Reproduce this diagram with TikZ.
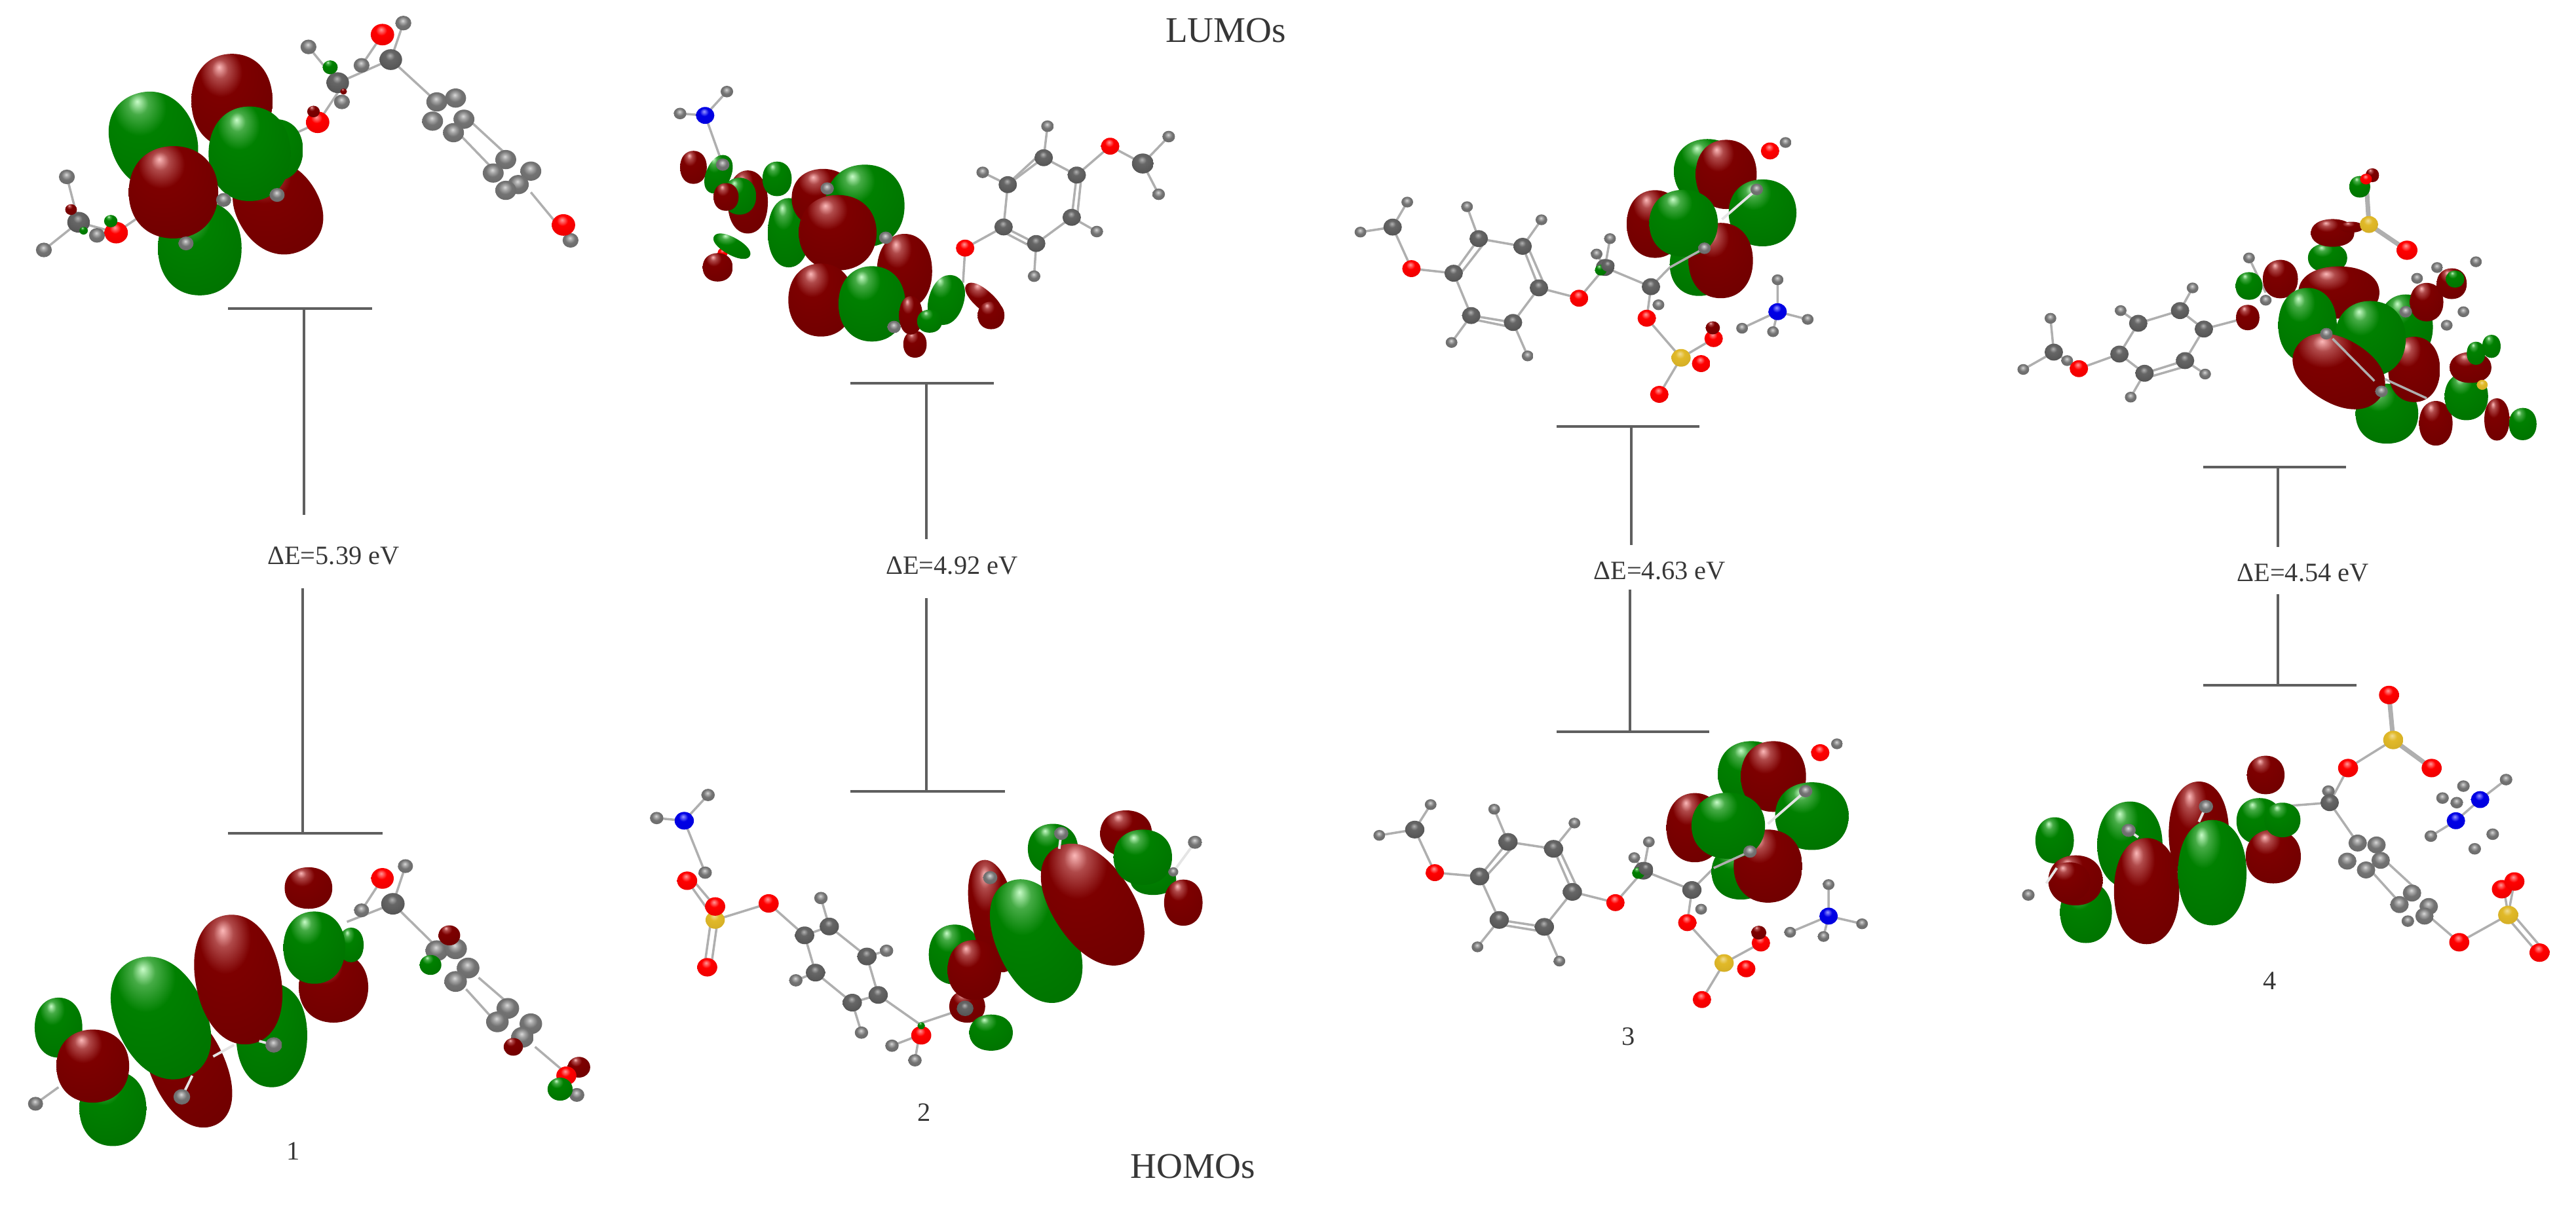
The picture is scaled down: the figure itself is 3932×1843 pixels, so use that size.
\documentclass[tikz,border=0pt]{standalone}
\usepackage{fontspec}
\setmainfont{Liberation Serif}
\usepackage{tikz}
\usetikzlibrary{positioning}

\definecolor{txtgrey}{RGB}{55,55,55}
\definecolor{barGrey}{RGB}{95,95,95}
\definecolor{bondGrey}{RGB}{175,175,175}
\definecolor{grHi}{RGB}{200,252,200}
\definecolor{grMid}{RGB}{0,128,0}
\definecolor{grDark}{RGB}{0,40,0}
\definecolor{rdHi}{RGB}{252,185,185}
\definecolor{rdMid}{RGB}{125,0,0}
\definecolor{rdDark}{RGB}{35,0,0}
\definecolor{sMid}{RGB}{225,185,40}

\pgfdeclareradialshading{shadeG}{\pgfpoint{-8bp}{18bp}}{color(0bp)=(grHi); color(5bp)=(grMid!65!grHi); color(13bp)=(grMid); color(42bp)=(grMid!88!black); color(66bp)=(grDark); color(80bp)=(grDark)}
\pgfdeclareradialshading{shadeR}{\pgfpoint{-8bp}{18bp}}{color(0bp)=(rdHi); color(5bp)=(rdMid!60!rdHi); color(13bp)=(rdMid); color(42bp)=(rdMid!88!black); color(66bp)=(rdDark); color(80bp)=(rdDark)}
\pgfdeclareradialshading{shadeH}{\pgfpoint{-2bp}{8bp}}{color(0bp)=(black!15); color(7bp)=(black!35); color(16bp)=(black!55); color(45bp)=(black!62); color(65bp)=(black!78)}
\pgfdeclareradialshading{shadeC}{\pgfpoint{-2bp}{10bp}}{color(0bp)=(black!30); color(10bp)=(black!60); color(45bp)=(black!72); color(65bp)=(black!88)}
\pgfdeclareradialshading{shadeO}{\pgfpoint{-3bp}{12bp}}{color(0bp)=(red!40); color(12bp)=(red); color(45bp)=(red!88!black); color(65bp)=(red!50!black)}
\pgfdeclareradialshading{shadeN}{\pgfpoint{-3bp}{12bp}}{color(0bp)=(blue!40); color(12bp)=(blue!90!black); color(45bp)=(blue!85!black); color(65bp)=(blue!50!black)}
\pgfdeclareradialshading{shadeS}{\pgfpoint{-3bp}{12bp}}{color(0bp)=(sMid!50!white); color(12bp)=(sMid); color(45bp)=(sMid!90!black); color(65bp)=(sMid!50!black)}

\tikzset{
  zoomview/.style={xscale=.638,yscale=.587},
  lobeG/.style={shading=shadeG},
  lobeR/.style={shading=shadeR},
  atomH/.style={shading=shadeH},
  atomC/.style={shading=shadeC},
  atomO/.style={shading=shadeO},
  atomN/.style={shading=shadeN},
  atomS/.style={shading=shadeS},
  bond/.style={draw=bondGrey,line width=1pt},
  whitebond/.style={draw=black!10,line width=1.1pt},
  levelbar/.style={draw=barGrey,line width=1.1pt},
  gaplabel/.style={text=txtgrey,font=\fontsize{11.5}{13}\selectfont,inner sep=0pt},
  titlelabel/.style={text=txtgrey,font=\fontsize{15.7}{18}\selectfont,inner sep=0pt}
}
% one orbital lobe: style, centre x, centre y, half length, half width, angle
\newcommand{\lobe}[6]{\shade[#1,shift={(#2,#3)},rotate=#6,xscale=#4,yscale=#5] (1,0) .. controls (1,.6) and (.6,1) .. (0,1) .. controls (-.6,1) and (-1,.6) .. (-1,0) .. controls (-1,-.6) and (-.6,-1) .. (0,-1) .. controls (.6,-1) and (1,-.6) .. (1,0) -- cycle;}

\begin{document}
\begin{tikzpicture}[x=0.1mm,y=-0.1mm]
\useasboundingbox (0,0) rectangle (3932,1843);

% titles and numbers
\node[titlelabel] (lumos) at (1871,47) {LUMOs};
\node[titlelabel] (homos) at (1821,1780) {HOMOs};
\node[gaplabel] (num1) at (448,1757) {1};
\node[gaplabel] (num2) at (1411,1698) {2};
\node[gaplabel] (num3) at (2486,1582) {3};
\node[gaplabel] (num4) at (3465,1497) {4};
\node[gaplabel] (gap1) at (509,848) {ΔE=5.39 eV};
\node[gaplabel] (gap2) at (1453,863) {ΔE=4.92 eV};
\node[gaplabel] (gap3) at (2533,871) {ΔE=4.63 eV};
\node[gaplabel] (gap4) at (3515,874) {ΔE=4.54 eV};

% energy levels
\coordinate (l1a) at (348,471); \coordinate (l1b) at (568,471); \coordinate (l1c) at (464,471); \coordinate (l1d) at (464,786);
\coordinate (h1a) at (348,1272); \coordinate (h1b) at (584,1272); \coordinate (h1c) at (462,1272); \coordinate (h1d) at (462,898);
\draw[levelbar] (l1a) -- (l1b);
\draw[levelbar] (l1c) -- (l1d);
\draw[levelbar] (h1a) -- (h1b);
\draw[levelbar] (h1c) -- (h1d);
\coordinate (l2a) at (1298,585); \coordinate (l2b) at (1517,585); \coordinate (l2c) at (1414,585); \coordinate (l2d) at (1414,823);
\coordinate (h2a) at (1298,1208); \coordinate (h2b) at (1534,1208); \coordinate (h2c) at (1414,1208); \coordinate (h2d) at (1414,913);
\draw[levelbar] (l2a) -- (l2b);
\draw[levelbar] (l2c) -- (l2d);
\draw[levelbar] (h2a) -- (h2b);
\draw[levelbar] (h2c) -- (h2d);
\coordinate (l3a) at (2376,651); \coordinate (l3b) at (2594,651); \coordinate (l3c) at (2490,651); \coordinate (l3d) at (2490,832);
\coordinate (h3a) at (2376,1117); \coordinate (h3b) at (2609,1117); \coordinate (h3c) at (2488,1117); \coordinate (h3d) at (2488,900);
\draw[levelbar] (l3a) -- (l3b);
\draw[levelbar] (l3c) -- (l3d);
\draw[levelbar] (h3a) -- (h3b);
\draw[levelbar] (h3c) -- (h3d);
\coordinate (l4a) at (3363,713); \coordinate (l4b) at (3581,713); \coordinate (l4c) at (3477,713); \coordinate (l4d) at (3477,835);
\coordinate (h4a) at (3363,1046); \coordinate (h4b) at (3597,1046); \coordinate (h4c) at (3477,1046); \coordinate (h4d) at (3477,907);
\draw[levelbar] (l4a) -- (l4b);
\draw[levelbar] (l4c) -- (l4d);
\draw[levelbar] (h4a) -- (h4b);
\draw[levelbar] (h4c) -- (h4d);

% panel 1, LUMO
\begin{scope}[zoomview]
\draw[bond] (965,60) -- (935,155) -- (830,205) -- (760,320) -- (700,350);
\draw[bond] (915,90) -- (865,170);
\draw[bond] (738,122) -- (808,215);
\draw[bond] (935,155) -- (1040,260);
\draw[bond] (1130,320) -- (1210,400);
\draw[bond] (1100,350) -- (1180,440);
\draw[bond] (1270,500) -- (1365,625);
\draw[bond] (160,460) -- (188,578) -- (105,650);
\draw[bond] (188,578) -- (278,605) -- (325,570);
\foreach \x/\y in {738/122,965/60,865/170,818/265,160/460,105/650,232/612,1365/625} \shade[atomH] (\x,\y) circle (19);
\foreach \x/\y in {935/155,808/215,188/578} \shade[atomC] (\x,\y) circle (27);
\foreach \x/\y in {1045/265,1090/255,1035/315,1110/310,1085/345,1210/415,1180/450,1270/445,1240/480,1210/495} \shade[atomH] (\x,\y) circle (25);
\foreach \x/\y in {915/90,760/318,278/605,1348/585} \shade[atomO] (\x,\y) circle (28);
\shade[lobeR] (750,290) circle (15);
\shade[lobeR] (170,545) circle (14);
\shade[lobeR] (822,238) circle (8);
\shade[lobeG] (790,175) circle (18);
\shade[lobeG] (265,575) circle (16);
\shade[lobeG] (200,600) circle (10);
\lobe{lobeR}{555}{262}{97}{122}{0}
\lobe{lobeR}{665}{540}{125}{100}{-62}
\lobe{lobeG}{478}{645}{100}{123}{0}
\lobe{lobeG}{367}{365}{128}{103}{-72}
\lobe{lobeG}{660}{390}{65}{80}{0}
\lobe{lobeG}{597}{400}{98}{123}{0}
\lobe{lobeR}{415}{500}{107}{120}{0}
\foreach \x/\y in {663/507,445/633,535/520} \shade[atomH] (\x,\y) circle (18);
\end{scope}

% panel 1, HOMO
\begin{scope}[shift={(0,920)},zoomview]
\draw[bond] (85,1303) -- (140,1260);
\draw[bond] (970,685) -- (940,783) -- (830,830);
\draw[bond] (915,717) -- (865,800);
\draw[bond] (940,783) -- (1040,890);
\draw[bond] (1145,975) -- (1225,1050);
\draw[bond] (1115,1005) -- (1190,1095);
\draw[bond] (1280,1155) -- (1345,1215);
\foreach \x/\y in {85/1303,970/685,865/800,1380/1280} \shade[atomH] (\x,\y) circle (18);
\shade[atomC] (940,783) circle (28);
\foreach \x/\y in {1045/905,1090/900,1120/950,1090/985,1215/1055,1190/1090,1270/1095,1250/1130} \shade[atomH] (\x,\y) circle (27);
\shade[atomO] (915,717) circle (27);
\shade[lobeR] (1075,865) circle (26);
\shade[lobeG] (1030,942) circle (26);
\shade[lobeR] (1228,1155) circle (23);
\shade[lobeR] (1385,1208) circle (27);
\shade[atomO] (1355,1230) circle (24);
\shade[lobeG] (1340,1265) circle (30);
\lobe{lobeG}{140}{1105}{57}{78}{0}
\lobe{lobeR}{450}{1210}{162}{90}{-68}
\lobe{lobeG}{270}{1315}{80}{98}{0}
\lobe{lobeR}{222}{1205}{87}{95}{0}
\lobe{lobeG}{385}{1080}{165}{108}{-68}
\lobe{lobeG}{650}{1125}{85}{135}{0}
\lobe{lobeR}{570}{980}{170}{102}{-80}
\lobe{lobeR}{798}{1000}{83}{92}{0}
\lobe{lobeG}{840}{890}{30}{45}{0}
\lobe{lobeG}{752}{897}{74}{94}{0}
\lobe{lobeR}{738}{742}{57}{54}{0}
\draw[whitebond] (655,1150) -- (620,1140);
\draw[whitebond] (510,1180) -- (560,1150);
\draw[whitebond] (435,1285) -- (460,1230);
\foreach \x/\y in {655/1150,435/1285} \shade[atomH] (\x,\y) circle (20);
\end{scope}

% panel 2, LUMO
\begin{scope}[shift={(950,50)},zoomview]
\draw[bond] (250,153) -- (198,215) -- (138,210);
\draw[bond] (198,215) -- (240,343);
\draw[bond] (815,650) -- (820,560) -- (912,505);
\draw[bond] (912,505) -- (922,395) -- (1008,325) -- (1087,370) -- (1075,480) -- (990,548) -- cycle;
\draw[bond] (930,385) -- (1000,315);
\draw[bond] (1098,375) -- (1088,478);
\draw[bond] (915,520) -- (985,560);
\draw[bond] (922,395) -- (862,363);
\draw[bond] (1008,325) -- (1017,243);
\draw[bond] (1075,480) -- (1135,517);
\draw[bond] (990,548) -- (985,633);
\draw[bond] (1087,370) -- (1167,295) -- (1245,340) -- (1307,270);
\draw[bond] (1245,340) -- (1283,420);
\foreach \x/\y in {250/153,138/210,862/363,1017/243,1135/517,985/633,1307/270,1283/420} \shade[atomH] (\x,\y) circle (15);
\foreach \x/\y in {912/505,922/395,1008/325,1087/370,1075/480,990/548} \shade[atomC] (\x,\y) circle (22);
\shade[atomC] (1245,340) circle (26);
\foreach \x/\y in {820/560,1167/295} \shade[atomO] (\x,\y) circle (22);
\shade[atomN] (198,215) circle (22);
\lobe{lobeR}{170}{350}{32}{43}{0}
\lobe{lobeR}{300}{440}{48}{82}{0}
\lobe{lobeG}{230}{368}{52}{30}{70}
\lobe{lobeG}{280}{425}{40}{48}{0}
\lobe{lobeR}{248}{427}{30}{36}{0}
\shade[atomO] (240,572) circle (12);
\lobe{lobeG}{262}{555}{50}{22}{-32}
\lobe{lobeR}{228}{610}{36}{37}{0}
\lobe{lobeG}{370}{380}{35}{45}{0}
\lobe{lobeG}{398}{520}{50}{90}{0}
\lobe{lobeR}{480}{430}{75}{76}{0}
\lobe{lobeG}{580}{450}{95}{107}{0}
\lobe{lobeR}{515}{520}{93}{98}{0}
\lobe{lobeR}{675}{620}{66}{97}{0}
\lobe{lobeR}{475}{695}{78}{95}{0}
\lobe{lobeG}{597}{705}{80}{98}{0}
\lobe{lobeR}{700}{810}{28}{35}{0}
\lobe{lobeR}{690}{735}{28}{50}{0}
\lobe{lobeG}{775}{695}{66}{42}{75}
\lobe{lobeG}{735}{750}{30}{30}{0}
\lobe{lobeR}{865}{695}{58}{24}{-45}
\lobe{lobeR}{882}{735}{32}{36}{0}
\foreach \x/\y in {490/405,630/533,650/765} \shade[atomH] (\x,\y) circle (16);
\shade[atomH] (240,343) circle (16);
\end{scope}

% panel 2, HOMO
\begin{scope}[shift={(950,920)},zoomview]
\draw[bond] (205,500) -- (148,567) -- (82,560);
\draw[bond] (148,567) -- (198,702);
\draw[bond] (155,723) -- (222,825);
\draw[bond] (170,723) -- (230,800);
\draw[bond] (222,825) -- (350,782) -- (436,865);
\draw[bond] (212,825) -- (196,948);
\draw[bond] (228,825) -- (212,948);
\draw[bond] (436,865) -- (495,842) -- (585,920) -- (612,1020) -- (550,1040) -- (462,962) -- cycle;
\draw[bond] (495,842) -- (475,768);
\draw[bond] (585,920) -- (632,905);
\draw[bond] (462,962) -- (415,982);
\draw[bond] (550,1040) -- (572,1118);
\draw[bond] (612,1020) -- (710,1095) -- (820,1055);
\draw[bond] (645,1152) -- (710,1125) -- (700,1190);
\foreach \x/\y in {205/500,82/560,198/702,475/768,632/905,415/982,572/1118,645/1152,700/1190} \shade[atomH] (\x,\y) circle (16);
\foreach \x/\y in {436/865,495/842,585/920,612/1020,550/1040,462/962} \shade[atomC] (\x,\y) circle (23);
\shade[atomN] (148,567) circle (23);
\shade[atomS] (222,825) circle (23);
\foreach \x/\y in {155/723,222/790,350/782,203/948} \shade[atomO] (\x,\y) circle (24);
\lobe{lobeR}{825}{1050}{43}{42}{0}
\shade[atomO] (715,1125) circle (24);
\shade[lobeG] (715,1100) circle (9);
\lobe{lobeG}{882}{1118}{52}{47}{0}
\lobe{lobeG}{795}{915}{62}{78}{0}
\lobe{lobeR}{888}{815}{148}{55}{-80}
\lobe{lobeR}{842}{955}{64}{78}{0}
\lobe{lobeG}{1030}{640}{60}{65}{0}
\lobe{lobeG}{1050}{830}{40}{60}{0}
\lobe{lobeG}{990}{880}{168}{95}{-68}
\lobe{lobeR}{1125}{785}{172}{98}{-60}
\lobe{lobeR}{1205}{600}{62}{60}{0}
\lobe{lobeG}{1270}{720}{55}{40}{0}
\lobe{lobeG}{1245}{662}{70}{72}{0}
\lobe{lobeR}{1342}{780}{46}{60}{0}
\draw[whitebond] (1370,623) -- (1318,700);
\draw[whitebond] (1050,600) -- (1045,640);
\shade[atomC] (820,1055) circle (20);
\foreach \x/\y in {1050/600,880/715,1370/623} \shade[atomH] (\x,\y) circle (17);
\shade[atomH] (1318,700) circle (12);
\end{scope}

% panel 3, LUMO
\begin{scope}[shift={(2000,150)},zoomview]
\draw[bond] (232,270) -- (197,335) -- (120,348);
\draw[bond] (197,335) -- (242,443) -- (343,455);
\draw[bond] (343,455) -- (403,365) -- (508,385) -- (547,493) -- (485,583) -- (385,565) -- cycle;
\draw[bond] (360,455) -- (415,378);
\draw[bond] (520,385) -- (560,485);
\draw[bond] (390,575) -- (480,595);
\draw[bond] (403,365) -- (375,282);
\draw[bond] (508,385) -- (553,316);
\draw[bond] (385,565) -- (338,635);
\draw[bond] (485,583) -- (520,670);
\draw[bond] (547,493) -- (643,520) -- (705,440) -- (815,490);
\draw[bond] (685,405) -- (705,440) -- (717,365);
\draw[bond] (815,490) -- (860,440);
\draw[bond] (815,490) -- (805,572) -- (887,675);
\draw[bond] (887,675) -- (965,625);
\draw[bond] (887,675) -- (835,770);
\draw[bond] (1118,472) -- (1118,555) -- (1033,598);
\draw[bond] (1190,575) -- (1118,555) -- (1107,607);
\foreach \x/\y in {232/270,120/348,375/282,553/316,338/635,520/670,685/405,717/365,833/537,1118/472,1033/598,1190/575,1107/607,1137/115} \shade[atomH] (\x,\y) circle (14);
\foreach \x/\y in {197/335,343/455,403/365,508/385,547/493,485/583,385/565,705/440,815/490} \shade[atomC] (\x,\y) circle (22);
\shade[lobeG] (695,447) circle (14);
\shade[atomC] (712,435) circle (16);
\foreach \x/\y in {242/443,643/520,805/572,965/625,935/690,835/770,1100/137} \shade[atomO] (\x,\y) circle (22);
\shade[lobeR] (963,597) circle (17);
\shade[atomS] (887,675) circle (23);
\shade[atomN] (1118,555) circle (22);
\lobe{lobeG}{950}{190}{80}{84}{0}
\lobe{lobeR}{995}{198}{73}{90}{0}
\lobe{lobeR}{825}{327}{68}{88}{0}
\lobe{lobeG}{930}{432}{70}{82}{0}
\lobe{lobeG}{1082}{298}{81}{87}{0}
\lobe{lobeR}{982}{422}{77}{98}{0}
\lobe{lobeG}{893}{325}{82}{87}{0}
\draw[bond] (860,440) -- (943,390);
\draw[whitebond] (985,315) -- (1068,237);
\foreach \x/\y in {1068/237,943/390} \shade[atomH] (\x,\y) circle (15);
\end{scope}

% panel 3, HOMO
\begin{scope}[shift={(2000,920)},zoomview]
\draw[bond] (288,525) -- (250,590) -- (165,605);
\draw[bond] (250,590) -- (298,702) -- (405,712);
\draw[bond] (405,712) -- (473,622) -- (582,640) -- (627,752) -- (560,843) -- (452,825) -- cycle;
\draw[bond] (420,712) -- (483,637);
\draw[bond] (595,640) -- (640,745);
\draw[bond] (460,838) -- (555,855);
\draw[bond] (473,622) -- (440,537);
\draw[bond] (582,640) -- (632,573);
\draw[bond] (452,825) -- (400,895);
\draw[bond] (560,843) -- (596,932);
\draw[bond] (627,752) -- (730,780) -- (797,697) -- (913,747);
\draw[bond] (775,663) -- (797,697) -- (810,622);
\draw[bond] (913,747) -- (965,690);
\draw[bond] (913,747) -- (902,832) -- (990,937);
\draw[bond] (990,937) -- (1078,885);
\draw[bond] (990,937) -- (937,1032);
\draw[bond] (1240,733) -- (1240,815) -- (1148,857);
\draw[bond] (1320,835) -- (1240,815) -- (1228,868);
\foreach \x/\y in {288/525,165/605,440/537,632/573,400/895,596/932,775/663,810/622,935/797,1240/733,1148/857,1320/835,1228/868,1260/367} \shade[atomH] (\x,\y) circle (14);
\foreach \x/\y in {250/590,405/712,473/622,582/640,627/752,560/843,452/825,797/697,913/747} \shade[atomC] (\x,\y) circle (23);
\shade[lobeG] (785,703) circle (15);
\shade[atomC] (803,692) circle (17);
\foreach \x/\y in {298/702,730/780,902/832,1078/885,1043/952,937/1032,1220/390} \shade[atomO] (\x,\y) circle (22);
\shade[lobeR] (1073,858) circle (18);
\shade[atomS] (990,937) circle (23);
\shade[atomN] (1240,815) circle (22);
\lobe{lobeG}{1055}{445}{80}{85}{0}
\lobe{lobeR}{1108}{452}{78}{92}{0}
\lobe{lobeR}{920}{585}{68}{90}{0}
\lobe{lobeG}{1030}{700}{70}{72}{0}
\lobe{lobeG}{1200}{555}{88}{88}{0}
\lobe{lobeR}{1095}{685}{82}{95}{0}
\lobe{lobeG}{1000}{580}{88}{86}{0}
\draw[bond] (965,690) -- (1052,647);
\draw[whitebond] (1095,575) -- (1185,490);
\foreach \x/\y in {1185/490,1052/647} \shade[atomH] (\x,\y) circle (16);
\end{scope}

% panel 4, LUMO
\begin{scope}[shift={(2932,200)},zoomview]
\draw[bond] (310,487) -- (318,575) -- (245,620);
\draw[bond] (318,575) -- (378,618) -- (475,580);
\draw[bond] (475,580) -- (520,500) -- (620,467) -- (677,515) -- (632,597) -- (535,630) -- cycle;
\draw[bond] (545,640) -- (640,610);
\draw[bond] (520,500) -- (478,467);
\draw[bond] (620,467) -- (650,408);
\draw[bond] (632,597) -- (680,632);
\draw[bond] (535,630) -- (502,692);
\draw[bond] (677,515) -- (782,485);
\draw[bond] (785,330) -- (825,420);
\draw[bond,line width=2pt] (1072,243) -- (1065,125);
\draw[bond,line width=2pt] (1072,243) -- (1163,310);
\foreach \x/\y in {310/487,245/620,350/597,478/467,650/408,680/632,502/692,785/330,825/440,1235/355,1328/340,1187/383,1298/470,1258/505} \shade[atomH] (\x,\y) circle (14);
\foreach \x/\y in {318/575,475/580,520/500,620/467,677/515,632/597,535/630} \shade[atomC] (\x,\y) circle (22);
\shade[atomO] (378,618) circle (22);
\shade[atomO] (1163,310) circle (25);
\lobe{lobeG}{1050}{145}{25}{28}{0}
\lobe{lobeR}{1080}{115}{16}{18}{0}
\shade[atomO] (1065,125) circle (14);
\lobe{lobeR}{782}{485}{28}{33}{0}
\lobe{lobeG}{785}{403}{32}{36}{0}
\lobe{lobeG}{973}{330}{47}{38}{0}
\lobe{lobeR}{985}{265}{52}{36}{0}
\lobe{lobeR}{1030}{250}{28}{14}{0}
\shade[atomS] (1072,243) circle (22);
\lobe{lobeR}{1000}{420}{97}{68}{0}
\lobe{lobeR}{860}{385}{42}{50}{0}
\lobe{lobeG}{925}{505}{70}{97}{0}
\lobe{lobeG}{1160}{510}{65}{85}{0}
\lobe{lobeG}{1115}{735}{75}{78}{0}
\lobe{lobeR}{1180}{620}{62}{85}{0}
\lobe{lobeG}{1075}{540}{85}{98}{0}
\lobe{lobeR}{1000}{625}{120}{82}{-35}
\lobe{lobeR}{1232}{760}{40}{58}{0}
\lobe{lobeG}{1305}{690}{52}{62}{0}
\lobe{lobeR}{1315}{615}{50}{40}{0}
\lobe{lobeG}{1365}{560}{22}{30}{0}
\lobe{lobeG}{1328}{578}{22}{30}{0}
\shade[atomS] (1343,660) circle (13);
\shade[atomO] (1408,755) circle (13);
\lobe{lobeR}{1378}{750}{30}{55}{0}
\lobe{lobeG}{1440}{762}{33}{42}{0}
\lobe{lobeR}{1210}{445}{40}{50}{0}
\lobe{lobeR}{1270}{397}{36}{40}{0}
\lobe{lobeG}{1278}{385}{22}{22}{0}
\draw[bond] (985,540) -- (1085,650);
\draw[bond] (1110,645) -- (1210,695);
\foreach \x/\y in {1160/470,970/527,1102/677} \shade[atomH] (\x,\y) circle (15);
\end{scope}

% panel 4, HOMO
\begin{scope}[shift={(2932,920)},zoomview]
\draw[bond,line width=2pt] (1120,240) -- (1130,357);
\draw[bond,line width=2pt] (1130,357) -- (1222,430);
\draw[bond] (1130,357) -- (1022,430) -- (978,520);
\draw[bond] (860,530) -- (978,520) -- (1045,625);
\draw[bond] (1110,670) -- (1190,750);
\draw[bond] (1075,695) -- (1150,785);
\draw[bond] (1215,815) -- (1288,883) -- (1405,812);
\draw[bond] (1405,812) -- (1395,745);
\draw[bond] (1405,812) -- (1420,725);
\draw[bond] (1400,815) -- (1475,910);
\draw[bond] (1412,805) -- (1487,900);
\draw[bond] (1220,607) -- (1280,567) -- (1338,512) -- (1400,460);
\foreach \x/\y in {257/760,1220/607,1400/460,1298/477,1248/508,1282/520,1368/602,1325/640,1165/828,975/490} \shade[atomH] (\x,\y) circle (15);
\shade[atomC] (978,520) circle (22);
\foreach \x/\y in {1045/625,1090/630,1020/672,1100/670,1065/695,1175/755,1145/785,1215/790,1205/815} \shade[atomH] (\x,\y) circle (22);
\foreach \x/\y in {1120/240,1022/430,1222/430,1288/883,1390/745,1420/725,1480/910} \shade[atomO] (\x,\y) circle (24);
\foreach \x/\y in {1130/357,1405/812} \shade[atomS] (\x,\y) circle (24);
\foreach \x/\y in {1280/567,1338/512} \shade[atomN] (\x,\y) circle (22);
\lobe{lobeG}{320}{618}{46}{60}{0}
\lobe{lobeG}{395}{805}{62}{80}{0}
\lobe{lobeR}{370}{722}{65}{65}{0}
\lobe{lobeR}{355}{725}{50}{50}{0}
\lobe{lobeG}{500}{630}{78}{113}{0}
\lobe{lobeR}{665}{600}{72}{135}{0}
\lobe{lobeR}{540}{750}{78}{138}{0}
\lobe{lobeG}{697}{702}{82}{137}{0}
\lobe{lobeR}{825}{448}{45}{50}{0}
\lobe{lobeG}{810}{568}{55}{60}{0}
\lobe{lobeR}{843}{660}{66}{70}{0}
\lobe{lobeG}{865}{565}{43}{45}{0}
\draw[whitebond] (682,530) -- (665,570);
\draw[whitebond] (497,592) -- (520,610);
\draw[whitebond] (300,730) -- (325,690);
\foreach \x/\y in {497/592,682/530} \shade[atomH] (\x,\y) circle (17);
\end{scope}
\end{tikzpicture}
\end{document}
